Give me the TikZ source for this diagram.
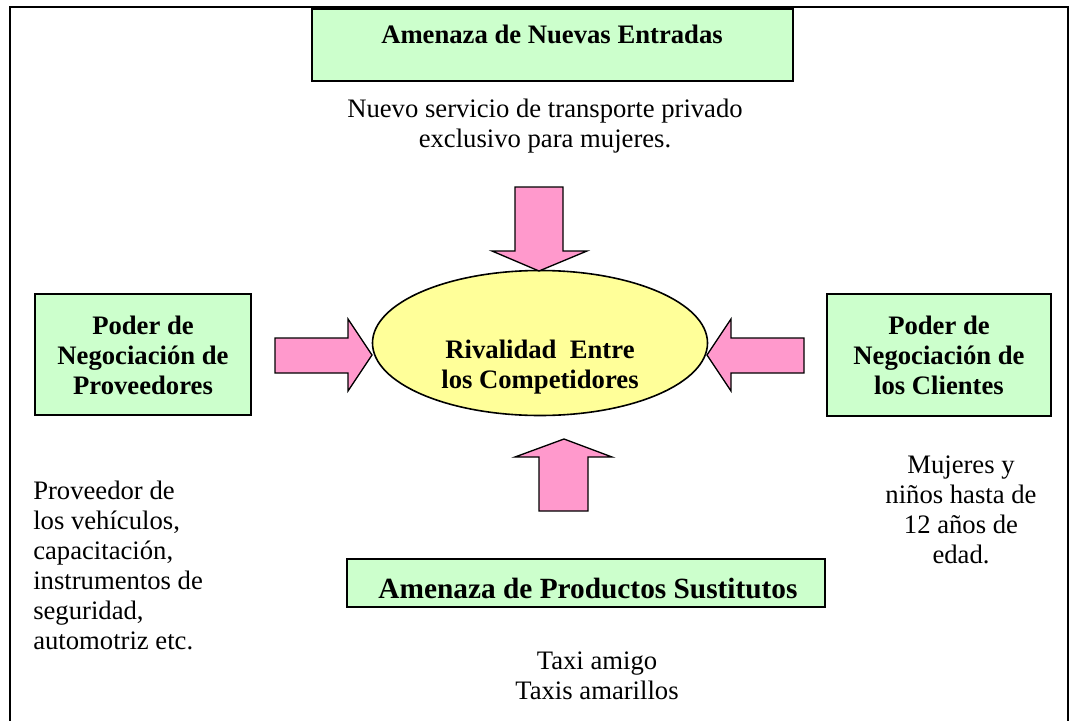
\documentclass[tikz,border=0pt]{standalone}
\usepackage{fontspec}
\setmainfont{Liberation Serif}
\usetikzlibrary{shapes.geometric}
\definecolor{boxgreen}{HTML}{CCFFCC}
\definecolor{arrpink}{HTML}{FF99CC}
\definecolor{ellyellow}{HTML}{FFFF99}
\tikzset{
  greenbox/.style={draw=black, line width=1.2pt, fill=boxgreen},
  blockarrow/.style={draw=black, line width=1pt, fill=arrpink, line join=miter},
  body/.style={font=\fontsize{20}{22.5}\selectfont, align=center, inner sep=0pt},
  bodybf/.style={font=\fontsize{20}{22.5}\selectfont\bfseries, align=center, inner sep=0pt},
}
\begin{document}
\begin{tikzpicture}[x=0.75pt,y=-0.75pt]
\useasboundingbox (0,0) rectangle (1071,721);
% frame (open at bottom)
\draw[line width=1.3pt] (10,721) -- (10,7) -- (1068,7) -- (1068,721);

% boxes
\draw[greenbox] (312,9) rectangle (793,81);
\node[bodybf] (top) at (552,34) {Amenaza de Nuevas Entradas};
\node[body] (toptxt) at (545,126) {Nuevo servicio de transporte privado\\exclusivo para mujeres.};

\draw[greenbox] (35,294) rectangle (251,415);
\node[bodybf] (left) at (143,355) {Poder de\\Negociación de\\Proveedores};

\draw[greenbox] (827,294) rectangle (1051,416);
\node[bodybf] (right) at (939,355) {Poder de\\Negociación de\\los Clientes};

\draw[greenbox] (347,559) rectangle (825,607);
\node[font=\fontsize{22}{24}\selectfont\bfseries, inner sep=0pt] (bottom) at (588,588) {Amenaza de Productos Sustitutos};

% ellipse
\node[ellipse, draw=black, line width=1.2pt, fill=ellyellow, inner sep=0pt,
      minimum width=251.25pt, minimum height=108.75pt] (riv) at (540,343) {};
\node[bodybf] (rivtxt) at (540,367) {Rivalidad\ \ Entre\\los Competidores};

% arrows
\draw[blockarrow] (515,187) -- (563,187) -- (563,251) -- (587,251) -- (539,271) -- (492,251) -- (515,251) -- cycle;
\draw[blockarrow] (275,338) -- (348,338) -- (348,319) -- (372,355) -- (348,391) -- (348,373) -- (275,373) -- cycle;
\draw[blockarrow] (804,338) -- (731,338) -- (731,319) -- (707,355) -- (731,391) -- (731,373) -- (804,373) -- cycle;
\draw[blockarrow] (539,511) -- (588,511) -- (588,457) -- (612,457) -- (564,439) -- (515,457) -- (539,457) -- cycle;

% side texts
\node[body, align=left, anchor=west] (lefttxt) at (33,565) {Proveedor de\\los vehículos,\\capacitación,\\instrumentos de\\seguridad,\\automotriz etc.};
\node[body] (righttxt) at (961,510) {Mujeres y\\niños hasta de\\12 años de\\edad.};
\node[body] (taxis) at (597,676) {Taxi amigo\\Taxis amarillos};
\end{tikzpicture}
\end{document}
